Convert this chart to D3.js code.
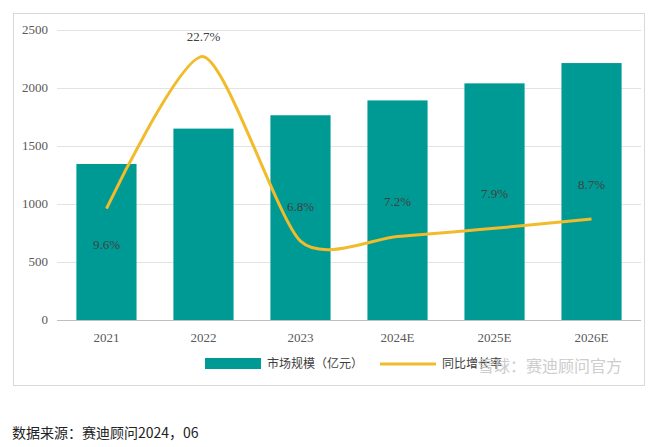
<!DOCTYPE html>
<html><head><meta charset="utf-8">
<script src="https://cdn.jsdelivr.net/npm/d3@7"></script>
<style>body{margin:0;background:#fff;font-family:"Noto Sans CJK SC","Noto Sans",sans-serif}</style>
</head><body><svg id="c" width="660" height="447"></svg>
<script>
const categories=["2021","2022","2023","2024E","2025E","2026E"];
const marketSize=[1345,1650,1765,1893,2040,2215];
const growth=[9.6,22.7,6.8,7.2,7.9,8.7];
const yTicks=[0,500,1000,1500,2000,2500];

const svg=d3.select("#c");
svg.append("rect").attr("x",13.5).attr("y",13.5).attr("width",631).attr("height",372).attr("fill","#fff").attr("stroke","#d9d9d9");
const x=d3.scaleBand().domain(categories).range([57,641]).paddingInner(0.38).paddingOuter(0.2);
const y=d3.scaleLinear().domain([0,2500]).range([320,30]);
const g=svg.append("g");
g.selectAll("line.grid").data(yTicks).join("line").attr("x1",57).attr("x2",641)
 .attr("y1",d=>y(d)+.5).attr("y2",d=>y(d)+.5).attr("stroke",d=>d===0?"#bfbfbf":"#e3e3e3");
g.selectAll("text.yt").data(yTicks).join("text").attr("x",48).attr("y",d=>y(d)+4).attr("text-anchor","end")
 .attr("font-family","Liberation Serif").attr("font-size",13).attr("fill","#595959").text(d=>d);
g.selectAll("rect.bar").data(marketSize).join("rect").attr("x",(d,i)=>x(categories[i])).attr("width",x.bandwidth())
 .attr("y",d=>y(d)).attr("height",d=>320-y(d)).attr("fill","#009a94");
g.selectAll("text.xt").data(categories).join("text").attr("x",d=>x(d)+x.bandwidth()/2).attr("y",342).attr("text-anchor","middle")
 .attr("font-family","Liberation Serif").attr("font-size",13).attr("fill","#595959").text(d=>d);
const line=d3.line().x((d,i)=>x(categories[i])+x.bandwidth()/2).y(d=>y(d*100)).curve(d3.curveCardinal.tension(0.3));
g.append("path").attr("d",line(growth)).attr("fill","none").attr("stroke","#f2bb2c").attr("stroke-width",3);
g.selectAll("text.lab").data(growth).join("text").attr("x",(d,i)=>x(categories[i])+x.bandwidth()/2)
 .attr("y",(d,i)=>i===0?y(d*100)+40:(i===1?y(d*100)-16:y(d*100)-30)).attr("text-anchor","middle")
 .attr("font-family","Liberation Serif").attr("font-size",13).attr("fill","#404040").text(d=>d+"%");
// legend
svg.append("rect").attr("x",205).attr("y",358).attr("width",56).attr("height",11).attr("fill","#009a94");
svg.append("text").attr("x",267).attr("y",368).attr("font-size",12).attr("fill","#404040").text("市场规模（亿元）");
svg.append("line").attr("x1",380).attr("x2",436).attr("y1",364).attr("y2",364).attr("stroke","#f2bb2c").attr("stroke-width",3);
svg.append("text").attr("x",442).attr("y",368).attr("font-size",12).attr("fill","#404040").text("同比增长率");
svg.append("text").attr("x",478).attr("y",372).attr("font-size",16).attr("fill","#c8c8c8").attr("opacity",0.9).text("雪球：赛迪顾问官方");
svg.append("text").attr("x",12).attr("y",438).attr("font-size",14).attr("fill","#222").text("数据来源：赛迪顾问2024，06");
</script></body></html>
